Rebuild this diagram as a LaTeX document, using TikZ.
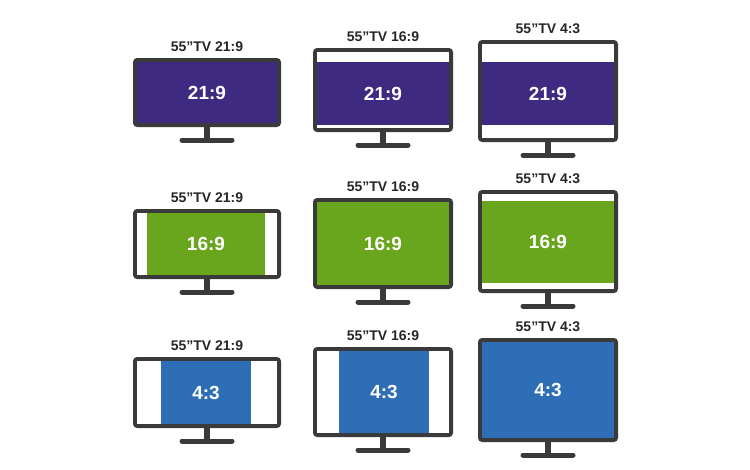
\documentclass[tikz,border=0pt]{standalone}
\usepackage{fontspec}
\setmainfont{Liberation Sans}
\usepackage{xcolor}
\definecolor{tvframe}{HTML}{3A3A3A}
\definecolor{wide}{HTML}{3F2A82}
\definecolor{hd}{HTML}{6AA51E}
\definecolor{std}{HTML}{2E6EB6}

\begin{document}
\begin{tikzpicture}[x=1pt,y=-1pt,
  tvlabel/.style={font=\fontsize{14}{16}\selectfont\bfseries,text=black!85,inner sep=0pt},
  pictext/.style={font=\fontsize{19}{22}\selectfont\bfseries,text=white,inner sep=0pt}]
  \useasboundingbox[fill=white] (0,0) rectangle (750,469);
  % frame l/r/t/b, picture l/r/t/b, colour, picture text, set
  \foreach \n/\l/\r/\t/\b/\pl/\pr/\pt/\pb/\col/\txt/\lab in {
    a/133/281/58/127/137/277/62/123/wide/21:9/21:9,
    b/313/453/48/132/317/449/62/125/wide/21:9/16:9,
    c/478/618/40/142/482/614/62/125/wide/21:9/4:3,
    d/133/281/209/279/147/265/213/275/hd/16:9/21:9,
    e/313/453/198/289/317/449/202/285/hd/16:9/16:9,
    f/478/618/190/293/482/614/201/283/hd/16:9/4:3,
    g/133/281/357/428/161/251/361/424/std/4:3/21:9,
    h/313/453/347/437/339/429/351/433/std/4:3/16:9,
    i/478/618/338/442/482/614/342/438/std/4:3/4:3}{
    \pgfmathsetmacro{\cx}{(\l+\r)/2}
    \fill[tvframe,rounded corners=4pt] (\l,\t) rectangle (\r,\b);
    \fill[white] (\l+4,\t+4) rectangle (\r-4,\b-4);
    \fill[\col] (\pl,\pt) rectangle (\pr,\pb);
    \node[pictext] (s\n) at ({(\pl+\pr)/2},{(\pt+\pb)/2}) {\txt};
    \node[tvlabel] (l\n) at (\cx,\t-11) {55”TV \lab};
    % stand
    \fill[tvframe] (\cx-3,\b) rectangle (\cx+3,\b+13);
    \draw[tvframe,line width=5pt,line cap=round] (\cx-25,\b+13) -- (\cx+25,\b+13);
  }
\end{tikzpicture}
\end{document}
